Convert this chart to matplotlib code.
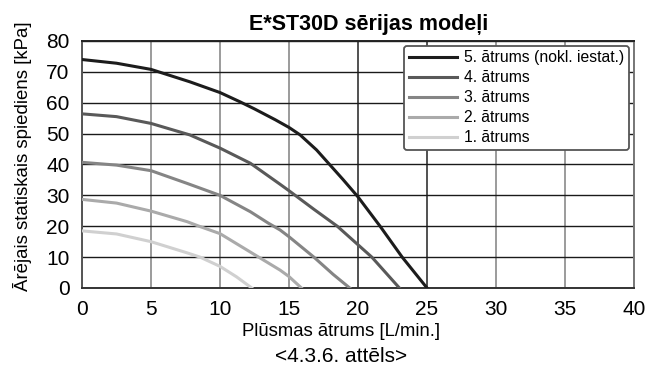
import numpy as np
import matplotlib.pyplot as plt

plt.rcParams['font.family'] = ['Liberation Sans', 'DejaVu Sans']

# flow rate [L/min] and pressure [kPa], one pair per speed
x5 = [0, 2.5, 5, 7.8, 10, 11.45, 12.5, 14, 15, 15.8, 17, 18.3, 18.9, 20, 21.6, 23.2, 25]
y5 = [74, 72.8, 70.8, 66.8, 63.3, 60.3, 58, 54.5, 52, 49.6, 44.7, 38.2, 35.2, 29.5, 20, 10, 0]
x4 = [0, 2.5, 5, 7.8, 10, 12.2, 14.35, 15, 16.8, 18.5, 20, 21, 22.1, 23]
y4 = [56.4, 55.5, 53.3, 49.6, 45.3, 40.4, 33.6, 31.5, 25.5, 20, 14, 10, 4.5, 0]
x3 = [0, 2.5, 5, 7.6, 10, 12.2, 13.5, 14.35, 15, 16.8, 18.2, 19.4]
y3 = [40.7, 39.8, 38, 33.9, 30, 24.7, 21, 18.8, 16.6, 10, 4.4, 0]
x2 = [0, 2.5, 5, 7.6, 8.55, 10, 12.8, 14.35, 15, 15.9]
y2 = [28.7, 27.5, 24.9, 21.5, 19.9, 17.6, 10, 5.8, 3.7, 0]
x1 = [0, 2.5, 5, 7.6, 8.55, 10, 11.2, 12.3]
y1 = [18.5, 17.5, 15, 11.4, 10, 7, 3.6, 0]

labels = ["5. ātrums (nokl. iestat.)", "4. ātrums", "3. ātrums", "2. ātrums", "1. ātrums"]
colors = ["#1c1c1c", "#595959", "#858585", "#aaaaaa", "#d0d0d0"]

fig = plt.figure(figsize=(6.53, 3.67), dpi=100)
ax = fig.add_axes([0.1256, 0.2153, 0.8453, 0.673])

for xs, ys, lab, c in zip([x5, x4, x3, x2, x1], [y5, y4, y3, y2, y1], labels, colors):
    ax.plot(xs, ys, color=c, lw=2.2, label=lab, solid_joinstyle='round', zorder=3)

ax.set_xlim(0, 40)
ax.set_ylim(0, 80)
ax.set_xticks(np.arange(0, 41, 5))
ax.set_yticks(np.arange(0, 81, 10))
ax.xaxis.grid(True, color="#808080", lw=1.1)
ax.yaxis.grid(True, color="#1a1a1a", lw=1.0)
# the 20 and 25 verticals are drawn dark in the source
for i, gl in enumerate(ax.get_xgridlines()):
    if i in (4, 5):
        gl.set_color("#222222")
ax.tick_params(axis='x', length=0, labelsize=15, pad=9)
ax.tick_params(axis='y', length=0, labelsize=15, pad=9)
ax.spines['left'].set_color("#555555")
ax.spines['bottom'].set_color("#333333")
ax.spines['right'].set_color("#777777")
ax.spines['top'].set_color("#222222")
for s in ax.spines.values():
    s.set_linewidth(1.4)

fig.text(369 / 653, 0.918, "E*ST30D sērijas modeļi", fontsize=15.5, fontweight='bold',
         ha='center', va='baseline')
ax.set_xlabel("Plūsmas ātrums [L/min.]", fontsize=13.3)
ax.xaxis.set_label_coords(0.469, -0.14)
ax.set_ylabel("Ārējais statiskais spiediens [kPa]", fontsize=13.4)
ax.yaxis.set_label_coords(-0.09, 0.534)
fig.text(341.5 / 653, 0.004, "<4.3.6. attēls>", fontsize=15, ha='center', va='bottom')

leg = ax.legend(loc='upper right', fontsize=11.3, frameon=True, fancybox=True,
                edgecolor="#555555", framealpha=1, handlelength=3.1,
                borderaxespad=0.3, labelspacing=0.32, handletextpad=0.45,
                borderpad=0.3)
leg.get_frame().set_linewidth(1.3)

fig.savefig("out.png", dpi=100)
